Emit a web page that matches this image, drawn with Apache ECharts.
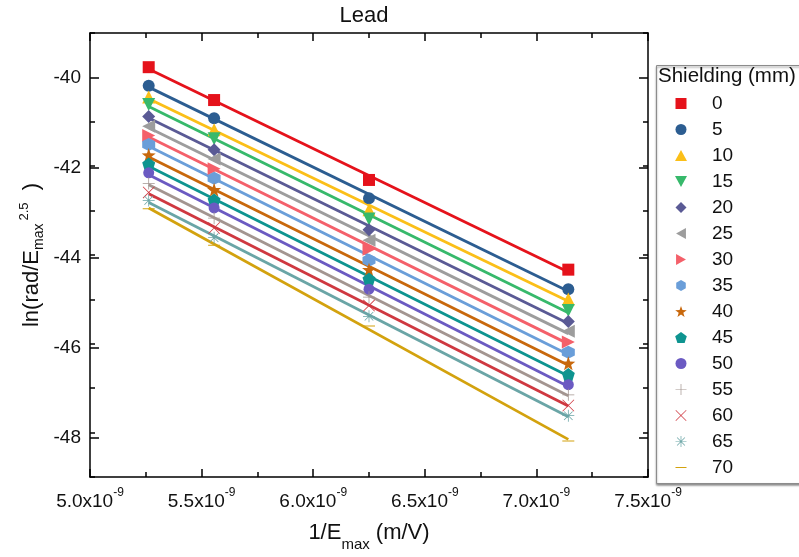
<!DOCTYPE html>
<html><head><meta charset="utf-8">
<script src="https://cdn.jsdelivr.net/npm/echarts@6/dist/echarts.min.js"></script>
<style>html,body{margin:0;padding:0;background:#fff}#c{width:799px;height:557px}</style>
</head><body><div id="c"></div>
<script>
// x values in units of 1e-9 m/V (1/Emax)
const xValues = [5.263, 5.556, 6.25, 7.143];
const shielding = ['0','5','10','15','20','25','30','35','40','45','50','55','60','65','70'];
const y0  = [-39.77, -40.51, -42.31, -44.33];
const y5  = [-40.19, -40.92, -42.72, -44.77];
const y10 = [-40.44, -41.18, -42.98, -44.99];
const y15 = [-40.61, -41.38, -43.19, -45.25];
const y20 = [-40.88, -41.63, -43.43, -45.50];
const y25 = [-41.10, -41.84, -43.67, -45.72];
const y30 = [-41.31, -42.06, -43.87, -45.96];
const y35 = [-41.51, -42.27, -44.12, -46.19];
const y40 = [-41.75, -42.53, -44.33, -46.44];
const y45 = [-41.95, -42.76, -44.54, -46.69];
const y50 = [-42.15, -42.94, -44.77, -46.92];
const y55 = [-42.39, -43.17, -44.95, -47.15];
const y60 = [-42.59, -43.39, -45.14, -47.39];
const y65 = [-42.77, -43.61, -45.38, -47.62];
const y70 = [-42.96, -43.78, -45.60, -48.19];
const yTickLabels = ['-48','-46','-44','-42','-40'];
const xTickLabels = ['5.0','5.5','6.0','6.5','7.0','7.5'];

const allY = [y0,y5,y10,y15,y20,y25,y30,y35,y40,y45,y50,y55,y60,y65,y70];
const colors = ['#e5121b','#2c5d91','#fbbf18','#37b96b','#5a5a95','#9d9d9d','#f4606a','#6a9ed9','#c8680c','#0e9490','#6b5ac2','#a39590','#cf3840','#6aa5a6','#d3a20e'];
const symbols = [
  'path://M0 0H20V20H0Z',
  'circle',
  'path://M10 0L20 18H0Z',
  'path://M0 0H20L10 18Z',
  'path://M10 0L20 10L10 20L0 10Z',
  'path://M0 10L18 0V20Z',
  'path://M0 0L18 10L0 20Z',
  'path://M10 0L18.7 5V15L10 20L1.3 15V5Z',
  'path://M10 0.5L12.35 7.26L19.51 7.41L13.8 11.74L15.88 18.59L10 14.5L4.12 18.59L6.2 11.74L0.49 7.41L7.65 7.26Z',
  'path://M10 0L19.5 6.9L15.9 18H4.1L0.5 6.9Z',
  'circle',
  'path://M9.35 0H10.65V20H9.35Z M0 9.35H20V10.65H0Z',
  'path://M0 0.9L0.9 0L20 19.1L19.1 20Z M19.1 0L20 0.9L0.9 20L0 19.1Z',
  'path://M9.35 0H10.65V20H9.35Z M0 9.35H20V10.65H0Z M2.4 3.3L3.3 2.4L17.6 16.7L16.7 17.6Z M16.7 2.4L17.6 3.3L3.3 17.6L2.4 16.7Z',
  'path://M0 9.2H20V10.8H0Z M10 0L10.01 0L10 0.01Z M10 20L10.01 20L10 19.99Z'
];
const sizes = [12,12,13,13,13,13,13,13,14,13,11,12,12,12,12];

function fitEnds(xs, ys) {
  const n = xs.length;
  let sx=0, sy=0, sxx=0, sxy=0;
  for (let i=0;i<n;i++){ sx+=xs[i]; sy+=ys[i]; sxx+=xs[i]*xs[i]; sxy+=xs[i]*ys[i]; }
  const b = (n*sxy - sx*sy)/(n*sxx - sx*sx);
  const a = (sy - b*sx)/n;
  return [[xs[0], a+b*xs[0]], [xs[n-1], a+b*xs[n-1]]];
}

const FONT = 'Arial, "Liberation Sans", sans-serif';
const series = [];
shielding.forEach((name, i) => {
  series.push({
    type: 'line', name: 'fit ' + name, data: fitEnds(xValues, allY[i]),
    symbol: 'none', silent: true, z: 2,
    lineStyle: { color: colors[i], width: 2.8 }
  });
});
shielding.forEach((name, i) => {
  series.push({
    type: 'scatter', name: name, data: xValues.map((x, j) => [x, allY[i][j]]),
    symbol: symbols[i], symbolSize: sizes[i], z: 3,
    itemStyle: { color: colors[i], opacity: 1 }
  });
});

const axisLineStyle = { color: '#000', width: 1.5 };
const option = {
  animation: false,
  backgroundColor: '#fff',
  title: {
    text: 'Lead', left: 364, top: 5, textAlign: 'center', padding: 0,
    textStyle: { fontFamily: FONT, fontSize: 22, fontWeight: 'normal', color: '#111' }
  },
  grid: [
    { left: 90, right: 151, top: 33, bottom: 74 },
    { left: 90, right: 151, top: 78, bottom: 119 }
  ],
  xAxis: [
    {
      type: 'value', gridIndex: 0, position: 'bottom', min: 5.0, max: 7.5, interval: 0.5,
      axisLine: { show: true, lineStyle: axisLineStyle, onZero: false },
      axisTick: { show: true, inside: true, length: 8, lineStyle: { color: '#000', width: 1.5 } },
      minorTick: { show: true, splitNumber: 2, length: 5, lineStyle: { color: '#000', width: 1.5 } },
      splitLine: { show: false },
      axisLabel: {
        margin: 10, color: '#111',
        formatter: v => { const k = Math.round((v - 5.0) / 0.5); return '{m|' + xTickLabels[k] + 'x10}{s|-9}'; },
        rich: {
          m: { fontFamily: FONT, fontSize: 19, color: '#111', verticalAlign: 'bottom', lineHeight: 24 },
          s: { fontFamily: FONT, fontSize: 12, color: '#111', verticalAlign: 'top', lineHeight: 24 }
        }
      },
      name: '{n|1/E}{sub|max}{n| (m/V)}', nameLocation: 'middle', nameGap: 45,
      nameTextStyle: {
        rich: {
          n: { fontFamily: FONT, fontSize: 22, color: '#111', verticalAlign: 'top', lineHeight: 30 },
          sub: { fontFamily: FONT, fontSize: 15, color: '#111', verticalAlign: 'bottom', lineHeight: 30 }
        }
      }
    },
    {
      type: 'value', gridIndex: 0, position: 'top', min: 5.0, max: 7.5, interval: 0.5,
      axisLine: { show: true, lineStyle: axisLineStyle, onZero: false },
      axisTick: { show: true, inside: true, length: 8, lineStyle: { color: '#000', width: 1.5 } },
      minorTick: { show: true, splitNumber: 2, length: 5, lineStyle: { color: '#000', width: 1.5 } },
      splitLine: { show: false }, axisLabel: { show: false }
    },
    {
      type: 'value', gridIndex: 1, min: 5.0, max: 7.5, show: false
    }
  ],
  yAxis: [
    {
      type: 'value', gridIndex: 0, position: 'left', min: -49, max: -39, interval: 1,
      axisLine: { show: true, lineStyle: axisLineStyle, onZero: false },
      axisTick: { show: true, inside: true, length: 5, lineStyle: { color: '#000', width: 1.5 } },
      splitLine: { show: false }, axisLabel: { show: false },
      name: '{n|ln(rad/E}{sub|max}{sup|2.5}{n|  )}', nameLocation: 'middle', nameGap: 44,
      nameTextStyle: {
        rich: {
          n: { fontFamily: FONT, fontSize: 22, color: '#111', verticalAlign: 'middle', lineHeight: 28 },
          sub: { fontFamily: FONT, fontSize: 14, color: '#111', verticalAlign: 'bottom', lineHeight: 28 },
          sup: { fontFamily: FONT, fontSize: 13, color: '#111', verticalAlign: 'top', lineHeight: 28, padding: [0, 0, 0, 3] }
        }
      }
    },
    {
      type: 'value', gridIndex: 0, position: 'right', min: -49, max: -39, interval: 1,
      axisLine: { show: true, lineStyle: axisLineStyle, onZero: false },
      axisTick: { show: true, inside: true, length: 5, lineStyle: { color: '#000', width: 1.5 } },
      splitLine: { show: false }, axisLabel: { show: false }
    },
    {
      type: 'value', gridIndex: 1, position: 'left', min: -48, max: -40, interval: 2,
      axisLine: { show: false },
      axisTick: { show: true, inside: true, length: 9, lineStyle: { color: '#000', width: 1.5 } },
      splitLine: { show: false },
      axisLabel: {
        margin: 9, fontFamily: FONT, fontSize: 19, color: '#111',
        formatter: v => yTickLabels[Math.round((v + 48) / 2)]
      }
    },
    {
      type: 'value', gridIndex: 1, position: 'right', min: -48, max: -40, interval: 2,
      axisLine: { show: false },
      axisTick: { show: true, inside: true, length: 9, lineStyle: { color: '#000', width: 1.5 } },
      splitLine: { show: false }, axisLabel: { show: false }
    }
  ],
  legend: {
    data: shielding, orient: 'vertical', left: 675, top: 94, padding: 0, align: 'left',
    itemWidth: 12, itemHeight: 11, itemGap: 7, symbolKeepAspect: true,
    selectedMode: false,
    formatter: name => '{t|' + name + '}',
    textStyle: {
      fontFamily: FONT, fontSize: 19, color: '#111', lineHeight: 19,
      rich: { t: { fontFamily: FONT, fontSize: 19, color: '#111', lineHeight: 19, padding: [0, 0, 0, 20] } }
    }
  },
  graphic: [
    {
      type: 'rect', left: 656, top: 65, z: -1,
      shape: { width: 160, height: 418 },
      style: { fill: '#fff', stroke: '#8c8c8c', lineWidth: 1, shadowBlur: 2, shadowOffsetY: 1.5, shadowColor: 'rgba(0,0,0,0.45)' }
    },
    {
      type: 'text', left: 658, top: 66,
      style: { text: 'Shielding (mm)', fontFamily: FONT, fontSize: 20.5, fill: '#111' }
    }
  ],
  series: series
};
const chart = echarts.init(document.getElementById('c'), null, { renderer: 'canvas' });
chart.setOption(option);
</script>
</body></html>
